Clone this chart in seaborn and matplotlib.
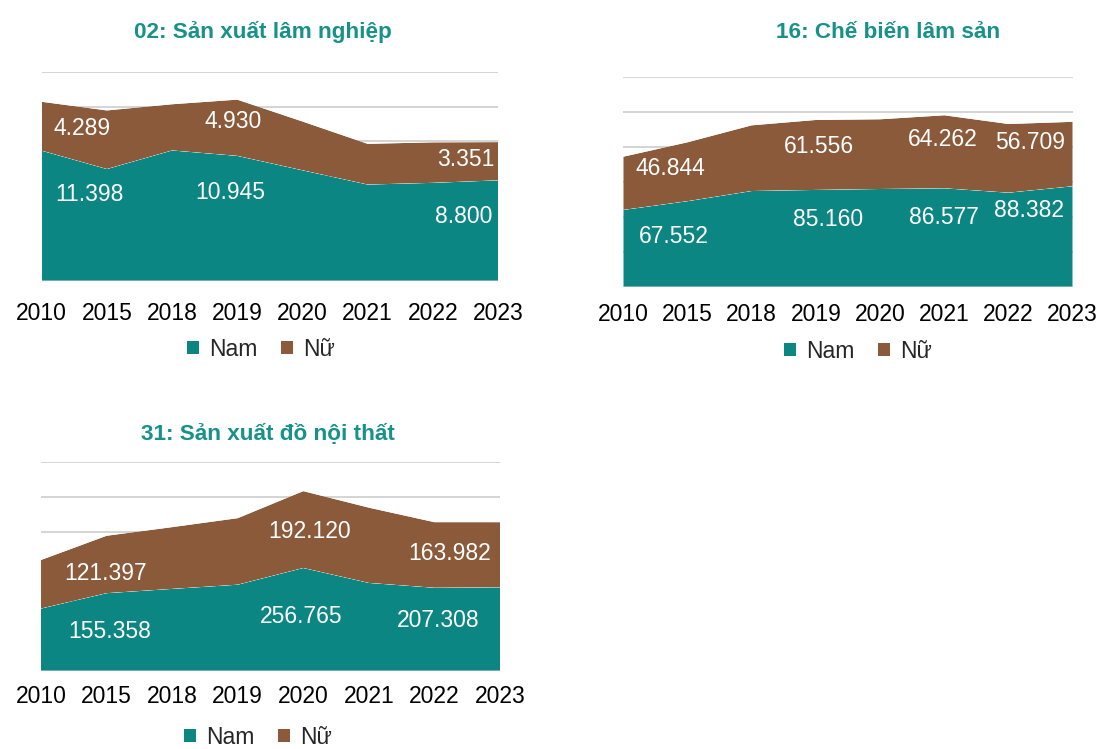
import numpy as np
import pandas as pd
import matplotlib
matplotlib.use("Agg")
import matplotlib.pyplot as plt
from matplotlib.patches import Patch
import seaborn as sns
import seaborn.objects as so

# ---------------- data ----------------
years = ["2010", "2015", "2018", "2019", "2020", "2021", "2022", "2023"]
series_names = ["Nam", "Nữ"]

titles = ["02: Sản xuất lâm nghiệp", "16: Chế biến lâm sản", "31: Sản xuất đồ nội thất"]

c02_nam = [11398, 9790, 11420, 10945, 9680, 8430, 8580, 8800]
c02_nu = [4289, 5138, 4050, 4930, 4279, 3569, 3551, 3351]

c16_nam = [67552, 75240, 84200, 85160, 85980, 86577, 82720, 88382]
c16_nu = [46844, 51830, 57800, 61556, 61340, 64262, 60460, 56709]

c31_nam = [155358, 193800, 204500, 215000, 256765, 219400, 207308, 208400]
c31_nu = [121397, 143500, 154400, 166300, 192120, 188200, 163982, 162900]

# which points carry a value label (series, year index)
c02_labels = [("Nữ", 0), ("Nam", 0), ("Nữ", 3), ("Nam", 3), ("Nữ", 7), ("Nam", 7)]
c16_labels = [("Nữ", 0), ("Nam", 0), ("Nữ", 3), ("Nam", 3), ("Nữ", 5), ("Nam", 5), ("Nữ", 7), ("Nam", 7)]
c31_labels = [("Nữ", 0), ("Nam", 0), ("Nữ", 4), ("Nam", 4), ("Nữ", 6), ("Nam", 6)]

# ---------------- style ----------------
TEAL = "#0B8682"
BROWN = "#8A5A3B"
TITLE_C = "#17918A"
GRID_C = "#D4D4D4"
FAM = ["Liberation Sans", "DejaVu Sans"]
FS = 16.5

sns.set_theme(style="white")
plt.rcParams["font.family"] = FAM
so.Plot.config.theme.update(sns.axes_style("white"))
so.Plot.config.theme["font.family"] = FAM

W, H = 1111, 749
fig = plt.figure(figsize=(W / 100, H / 100), dpi=100)
fig.patch.set_facecolor("white")


def px_rect(x0, y0, x1, y1):
    return [x0 / W, 1 - y1 / H, (x1 - x0) / W, (y1 - y0) / H]


def fmt(v):
    return f"{v:,}".replace(",", ".")


panels = [
    dict(nam=c02_nam, nu=c02_nu, title=titles[0], labels=c02_labels, top=18325,
         rect=px_rect(41.7, 71.7, 498, 280.7), title_xy=(263, 32), leg_xy=(261, 349), pad=15,
         # label placement: (dx in categories, fraction of band height)
         place=[(0.62, 0.46), (0.74, 0.66), (-0.07, 0.61), (-0.11, 0.71), (-0.50, 0.55), (-0.52, 0.64)]),
    dict(nam=c16_nam, nu=c16_nu, title=titles[1], labels=c16_labels, top=184800,
         rect=px_rect(623.3, 76.7, 1072.7, 286.7), title_xy=(888, 32), leg_xy=(858, 351), pad=11.5,
         place=[(0.73, 0.78), (0.78, 0.66), (0.05, 0.62), (0.19, 0.69), (-0.02, 0.67), (0.0, 0.70),
                (-0.66, 0.68), (-0.68, 0.76)]),
    dict(nam=c31_nam, nu=c31_nu, title=titles[2], labels=c31_labels, top=521000,
         rect=px_rect(41, 462.3, 500, 670.7), title_xy=(268, 434), leg_xy=(258, 737), pad=10,
         place=[(0.99, 0.73), (1.05, 0.63), (0.10, 0.47), (-0.03, 0.53), (0.23, 0.53), (0.06, 0.60)]),
]

idx = np.arange(len(years))

for p in panels:
    ax = fig.add_axes(p["rect"])
    df = pd.DataFrame({
        "i": np.concatenate([idx, idx]),
        "value": list(p["nam"]) + list(p["nu"]),
        "sex": [series_names[0]] * len(years) + [series_names[1]] * len(years),
    })
    (
        so.Plot(df, x="i", y="value", color="sex")
        .add(so.Area(alpha=1, edgewidth=0), so.Stack(), legend=False)
        .scale(color=so.Nominal({"Nam": TEAL, "Nữ": BROWN}, order=series_names))
        .limit(x=(0, len(years) - 1), y=(0, p["top"]))
        .on(ax)
        .plot()
    )
    ax.set_xlim(0, len(years) - 1)
    ax.set_ylim(0, p["top"])
    ax.set_facecolor("white")
    ax.set_xlabel("")
    ax.set_ylabel("")
    ax.set_yticks(np.linspace(0, p["top"], 7))
    ax.set_xticks(idx)
    ax.set_xticklabels(years, fontsize=FS, color="black", fontfamily=FAM)
    ax.tick_params(axis="x", length=0, pad=p["pad"])
    ax.tick_params(axis="y", length=0, labelleft=False)
    ax.grid(False)
    ax.yaxis.grid(True, color=GRID_C, linewidth=1.4)
    ax.set_axisbelow(True)
    for s in ax.spines.values():
        s.set_visible(False)

    nam = p["nam"]
    nu = p["nu"]
    for (ser, i), (dx, frac) in zip(p["labels"], p["place"]):
        if ser == "Nam":
            y = nam[i] * frac
            v = nam[i]
        else:
            y = nam[i] + nu[i] * frac
            v = nu[i]
        ax.text(i + dx, y, fmt(v), color="white", fontsize=FS, ha="center", va="center",
                fontfamily=FAM, clip_on=False)

    fig.text(p["title_xy"][0] / W, 1 - p["title_xy"][1] / H, p["title"], color=TITLE_C,
             fontsize=16.2, fontweight="bold", ha="center", va="center", fontfamily=FAM)

    handles = [Patch(facecolor=TEAL, edgecolor="none", label="Nam"),
               Patch(facecolor=BROWN, edgecolor="none", label="Nữ")]
    fig.legend(handles=handles, loc="center", ncol=2, frameon=False,
               bbox_to_anchor=(p["leg_xy"][0] / W, 1 - p["leg_xy"][1] / H),
               prop={"family": FAM, "size": FS}, handlelength=0.52, handleheight=0.52,
               handletextpad=0.42, columnspacing=1.05, borderaxespad=0, borderpad=0)

fig.savefig("out.png", dpi=100, facecolor="white")
